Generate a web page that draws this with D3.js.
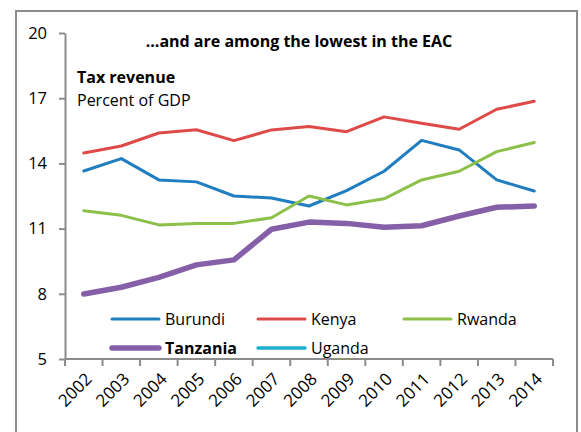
<!DOCTYPE html>
<html>
<head>
<meta charset="utf-8">
<script src="https://cdn.jsdelivr.net/npm/d3@7"></script>
<style>
  html, body { margin: 0; padding: 0; background: #fff; }
  svg { display: block; font-family: "Open Sans", Lato, sans-serif; }
</style>
</head>
<body>
<svg id="chart" width="581" height="432"></svg>
<script>
// Tax revenue, percent of GDP, EAC members
const years = ["2002","2003","2004","2005","2006","2007","2008","2009","2010","2011","2012","2013","2014"];
const burundi  = [13.65, 14.22, 13.24, 13.15, 12.50, 12.41, 12.04, 12.75, 13.64, 15.06, 14.62, 13.24, 12.73];
const kenya    = [14.48, 14.80, 15.40, 15.55, 15.05, 15.54, 15.70, 15.46, 16.14, 15.85, 15.57, 16.49, 16.86];
const rwanda   = [11.82, 11.61, 11.17, 11.24, 11.24, 11.50, 12.50, 12.09, 12.37, 13.24, 13.64, 14.54, 14.96];
const tanzania = [7.99, 8.30, 8.76, 9.33, 9.56, 10.97, 11.30, 11.24, 11.06, 11.13, 11.58, 11.98, 12.04];
const uganda   = [null, null, null, null, null, null, null, null, null, null, null, null, null];
const yTicks = [5, 8, 11, 14, 17, 20];

const series = [
  { name: "Burundi",  values: burundi,  color: "#1f7dc0", width: 3,   bold: false, col: 0, row: 0 },
  { name: "Kenya",    values: kenya,    color: "#dd4a48", width: 3,   bold: false, col: 1, row: 0 },
  { name: "Rwanda",   values: rwanda,   color: "#8cc04a", width: 3,   bold: false, col: 2, row: 0 },
  { name: "Tanzania", values: tanzania, color: "#8560a8", width: 5.5, bold: true,  col: 0, row: 1 },
  { name: "Uganda",   values: uganda,   color: "#1cafd0", width: 3.5, bold: false, col: 1, row: 1 }
];

const fontSize = "16px";
const svg = d3.select("#chart");
const plotLeft = 65, plotRight = 553, plotTop = 33, plotBottom = 359;

// outer frame
svg.append("rect")
  .attr("x", 16).attr("y", 11).attr("width", 561).attr("height", 440)
  .attr("fill", "none").attr("stroke", "#8c8c8c").attr("stroke-width", 2);

const x = d3.scaleBand().domain(years).range([plotLeft, plotRight]).padding(0);
const y = d3.scaleLinear().domain([5, 20]).range([plotBottom, plotTop]);

// y axis
const yAxis = svg.append("g")
  .attr("transform", `translate(${plotLeft},0)`)
  .call(d3.axisLeft(y).tickValues(yTicks).tickSize(6).tickPadding(12).tickSizeOuter(0));
yAxis.select(".domain").attr("stroke", "#8c8c8c").attr("stroke-width", 2);
yAxis.selectAll(".tick line").attr("stroke", "#8c8c8c").attr("stroke-width", 2);
yAxis.selectAll(".tick text")
  .attr("fill", "#000").style("font-size", "16.5px").style("font-family", "'Open Sans', sans-serif");

// x axis: ticks at band edges
const xAxis = svg.append("g").attr("transform", `translate(0,${plotBottom})`);
xAxis.append("line")
  .attr("x1", plotLeft).attr("x2", plotRight).attr("y1", 0).attr("y2", 0)
  .attr("stroke", "#8c8c8c").attr("stroke-width", 2);
const edges = years.map(d => x(d)).concat([x(years[years.length - 1]) + x.bandwidth()]);
xAxis.selectAll("line.edge").data(edges).join("line")
  .attr("class", "edge")
  .attr("x1", d => d).attr("x2", d => d).attr("y1", 0).attr("y2", 7)
  .attr("stroke", "#8c8c8c").attr("stroke-width", 2);
xAxis.selectAll("text").data(years).join("text")
  .attr("transform", d => `translate(${x(d) + x.bandwidth() / 2 + 5},${17}) rotate(-45)`)
  .attr("text-anchor", "end")
  .attr("dy", "0.35em")
  .style("font-size", "17px")
  .attr("fill", "#000")
  .text(d => d);

// series lines
const line = d3.line()
  .defined(d => d.v != null)
  .x(d => x(d.year) + x.bandwidth() / 2)
  .y(d => y(d.v));

series.forEach(s => {
  const pts = years.map((yr, i) => ({ year: yr, v: s.values[i] }));
  svg.append("path")
    .datum(pts)
    .attr("fill", "none")
    .attr("stroke", s.color)
    .attr("stroke-width", s.width)
    .attr("stroke-linejoin", "round")
    .attr("stroke-linecap", "round")
    .attr("d", line);
});

// titles
svg.append("text")
  .attr("x", 299).attr("y", 47)
  .attr("text-anchor", "middle")
  .style("font-size", fontSize).style("font-weight", "bold")
  .text("...and are among the lowest in the EAC");
svg.append("text")
  .attr("x", 77).attr("y", 83)
  .style("font-size", fontSize).style("font-weight", "bold")
  .text("Tax revenue");
svg.append("text")
  .attr("x", 77).attr("y", 106)
  .style("font-size", fontSize)
  .text("Percent of GDP");

// legend
const colX = [112, 258, 404];
const rowY = [319, 348];
const legend = svg.append("g");
series.forEach(s => {
  const lx = colX[s.col], ly = rowY[s.row];
  legend.append("line")
    .attr("x1", lx).attr("x2", lx + 47).attr("y1", ly).attr("y2", ly)
    .attr("stroke", s.color).attr("stroke-width", s.width)
    .attr("stroke-linecap", "round");
  legend.append("text")
    .attr("x", lx + 53).attr("y", ly).attr("dy", "0.35em")
    .style("font-size", fontSize)
    .style("font-weight", s.bold ? "bold" : "normal")
    .text(s.name);
});
</script>
</body>
</html>
